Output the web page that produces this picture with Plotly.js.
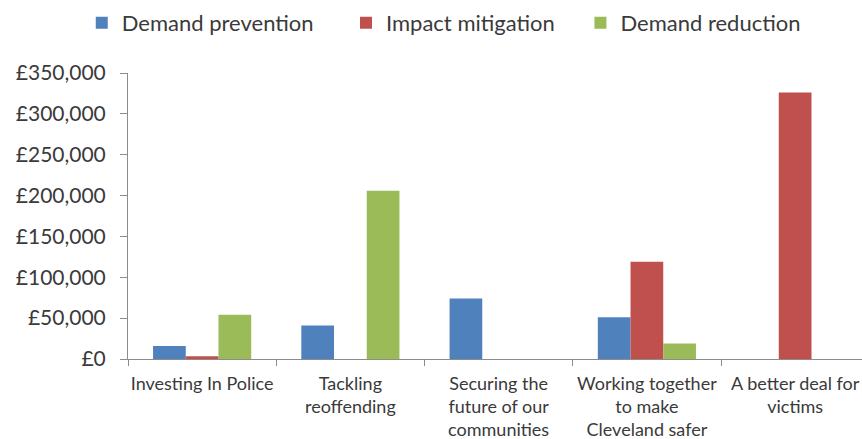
<!DOCTYPE html>
<html>
<head>
<meta charset="utf-8">
<script src="https://cdn.plot.ly/plotly-3.0.1.min.js"></script>
<style>
  html, body { margin: 0; padding: 0; background: #ffffff; }
  #chart { width: 862px; height: 439px; }
</style>
</head>
<body>
<div id="chart"></div>
<script>
// Funding by priority area, split by type of intervention
const categories = [
  "Investing In Police",
  "Tackling<br>reoffending",
  "Securing the<br>future of our<br>communities",
  "Working together<br>to make<br>Cleveland safer",
  "A better deal for<br>victims"
];
const demandPrevention = [16000, 41000, 74000, 51000, null];
const impactMitigation = [3500, null, null, 119000, 326000];
const demandReduction  = [54000, 206000, null, 19000, null];

const seriesNames = ["Demand prevention", "Impact mitigation", "Demand reduction"];
const tickValues = [0, 50000, 100000, 150000, 200000, 250000, 300000, 350000];
const tickLabels = tickValues.map(v => "\u00A3" + v.toLocaleString("en-GB"));

const FONT = "Lato, 'Open Sans', sans-serif";
const TEXT = "#3a3a3a";
const AXIS = "#8c8c8c";

const traces = [
  { name: seriesNames[0], y: demandPrevention, color: "#4F81BD", legend: "legend" },
  { name: seriesNames[1], y: impactMitigation, color: "#C0504D", legend: "legend2" },
  { name: seriesNames[2], y: demandReduction,  color: "#9BBB59", legend: "legend3" }
].map(s => ({
  type: "bar",
  name: s.name,
  x: categories,
  y: s.y,
  legend: s.legend,
  marker: { color: s.color, line: { width: 0 } },
  hoverinfo: "none"
}));

function legendAt(x) {
  return {
    x: x, y: 1.175, xanchor: "left", yanchor: "middle",
    orientation: "h",
    font: { family: FONT, size: 22, color: TEXT },
    bgcolor: "rgba(0,0,0,0)", borderwidth: 0,
    itemclick: false, itemdoubleclick: false
  };
}

const layout = {
  width: 862,
  height: 439,
  margin: { l: 128, r: 0, t: 73, b: 80 },
  paper_bgcolor: "#ffffff",
  plot_bgcolor: "#ffffff",
  barmode: "group",
  bargap: 0.338,
  bargroupgap: 0,
  showlegend: true,
  legend: legendAt(-0.063),
  legend2: legendAt(0.297),
  legend3: legendAt(0.6164),
  font: { family: FONT, size: 18, color: TEXT },
  xaxis: {
    type: "category",
    categoryorder: "array",
    categoryarray: categories,
    range: [-0.5, 4.451],
    showline: true, linecolor: AXIS, linewidth: 1,
    ticks: "outside", tickson: "boundaries", ticklen: 6, tickcolor: AXIS,
    tickangle: 0,
    ticklabelstandoff: 8,
    showgrid: false, zeroline: false,
    tickfont: { family: FONT, size: 18, color: TEXT },
    fixedrange: true
  },
  yaxis: {
    range: [0, 350000],
    tickmode: "array",
    tickvals: tickValues,
    ticktext: tickLabels,
    showline: true, linecolor: AXIS, linewidth: 1,
    ticks: "outside", ticklen: 7, tickcolor: AXIS,
    ticklabelstandoff: 10,
    showgrid: false, zeroline: false,
    tickfont: { family: FONT, size: 21, color: TEXT },
    fixedrange: true
  }
};

Plotly.newPlot("chart", traces, layout, { displayModeBar: false, staticPlot: true });
</script>
</body>
</html>
